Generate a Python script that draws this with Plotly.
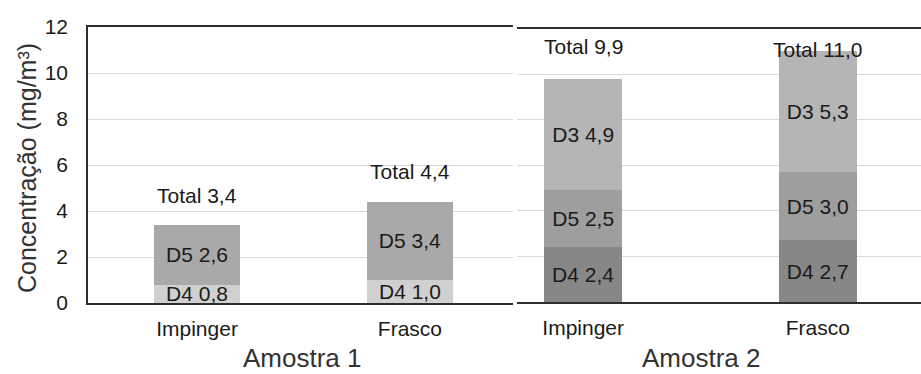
import plotly.graph_objects as go

# Categories and measured concentrations (mg/m³)
amostra1_cats = ["Impinger", "Frasco"]
amostra1_d4 = [0.8, 1.0]
amostra1_d5 = [2.6, 3.4]
amostra1_total = [3.4, 4.4]

amostra2_cats = ["Impinger", "Frasco"]
amostra2_d4 = [2.4, 2.7]
amostra2_d5 = [2.5, 3.0]
amostra2_d3 = [4.9, 5.3]
amostra2_total = [9.9, 11.0]

y_ticks = [0, 2, 4, 6, 8, 10, 12]

W, H = 921, 374
FONT = "Liberation Sans, Arial, sans-serif"
TXT = "#1a1a1a"


def fmt(v):
    return f"{v:.1f}".replace(".", ",")


def seg_bar(cats, vals, name, color, xa, ya, width):
    return go.Bar(
        x=cats, y=vals, name=name, marker=dict(color=color, line=dict(width=0)),
        width=width, xaxis=xa, yaxis=ya,
        text=[f"{name} {fmt(v)}" for v in vals],
        textposition="inside", insidetextanchor="middle",
        constraintext="none", cliponaxis=False,
        textfont=dict(family=FONT, size=21, color=TXT),
        showlegend=False, hoverinfo="skip",
    )


fig = go.Figure()
fig.add_trace(seg_bar(amostra1_cats, amostra1_d4, "D4", "#d0d0d0", "x", "y", 0.40))
fig.add_trace(seg_bar(amostra1_cats, amostra1_d5, "D5", "#a9a9a9", "x", "y", 0.40))
fig.add_trace(seg_bar(amostra2_cats, amostra2_d4, "D4", "#878787", "x2", "y2", 0.333))
fig.add_trace(seg_bar(amostra2_cats, amostra2_d5, "D5", "#9e9e9e", "x2", "y2", 0.333))
fig.add_trace(seg_bar(amostra2_cats, amostra2_d3, "D3", "#b5b5b5", "x2", "y2", 0.333))

# Total labels above each stack
annotations = []
for cats, totals, xr, yr, shifts in [
    (amostra1_cats, amostra1_total, "x", "y", [29, 30]),
    (amostra2_cats, amostra2_total, "x2", "y2", [30, 2]),
]:
    for c, t, s in zip(cats, totals, shifts):
        annotations.append(dict(
            x=c, y=t, xref=xr, yref=yr, yshift=s, showarrow=False,
            xanchor="center", yanchor="middle",
            text=f"Total {fmt(t)}", font=dict(family=FONT, size=21, color=TXT),
        ))

# Axis titles
title_font = dict(family=FONT, size=26, color="#333")
annotations += [
    dict(x=27 / W, y=1 - 168 / H, xref="paper", yref="paper", showarrow=False,
         xanchor="center", yanchor="middle", text="Concentração (mg/m³)",
         textangle=-90, font=dict(family=FONT, size=25, color="#333")),
    dict(x=302 / W, y=1 - 358 / H, xref="paper", yref="paper", showarrow=False,
         xanchor="center", yanchor="middle", text="Amostra 1", font=title_font),
    dict(x=701 / W, y=1 - 358 / H, xref="paper", yref="paper", showarrow=False,
         xanchor="center", yanchor="middle", text="Amostra 2", font=title_font),
]

axis_line = dict(showline=True, linecolor="#2e2e2e", linewidth=1.6)
cat_axis = dict(type="category", ticks="", showgrid=False, zeroline=False,
                tickfont=dict(family=FONT, size=21, color=TXT), ticklabelstandoff=6,
                mirror=True, fixedrange=True, automargin=False, **axis_line)
val_axis = dict(range=[0, 12], tickvals=y_ticks, showgrid=True, gridcolor="#d9d9d9",
                gridwidth=1, zeroline=False, ticks="", fixedrange=True, automargin=False)

fig.update_layout(
    width=W, height=H, margin=dict(l=0, r=0, t=0, b=0, pad=0, autoexpand=False),
    paper_bgcolor="white", plot_bgcolor="white", barmode="stack",
    font=dict(family=FONT, color=TXT),
    xaxis=dict(domain=[88 / W, 513 / W], range=[-0.512, 1.484], anchor="y", **cat_axis),
    yaxis=dict(domain=[1 - 303 / H, 1 - 27 / H], anchor="x", showticklabels=True,
               tickfont=dict(family=FONT, size=21, color=TXT), ticklabelstandoff=14,
               **val_axis, **axis_line),
    xaxis2=dict(domain=[517 / W, 1.0], range=[-0.282, 1.44], anchor="y2", **cat_axis),
    yaxis2=dict(domain=[1 - 302 / H, 1 - 28.5 / H], anchor="x2", showticklabels=False,
                showline=False, **val_axis),
    annotations=annotations,
)

fig.write_html("out.html")
